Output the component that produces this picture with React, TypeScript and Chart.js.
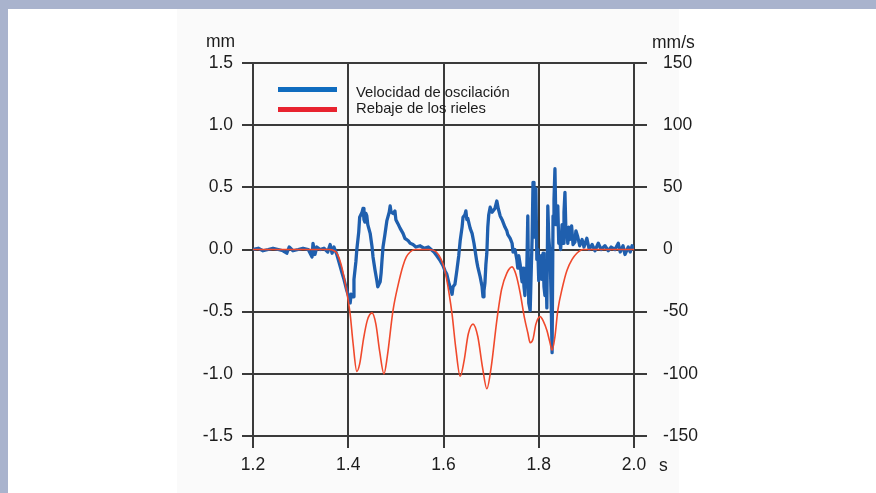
import React, { useEffect, useRef } from "react";
import { Chart, registerables } from "chart.js";

Chart.register(...registerables);

// Rebaje de los rieles (mm), left axis
const redTime = [1.2, 1.3, 1.36, 1.37, 1.376, 1.385, 1.395, 1.404, 1.41, 1.418, 1.424, 1.432, 1.44, 1.45, 1.458, 1.466, 1.475, 1.482, 1.494, 1.505, 1.515, 1.522, 1.53, 1.54, 1.57, 1.585, 1.595, 1.603, 1.612, 1.618, 1.626, 1.635, 1.643, 1.652, 1.662, 1.672, 1.682, 1.691, 1.7, 1.712, 1.722, 1.733, 1.744, 1.752, 1.761, 1.77, 1.777, 1.782, 1.788, 1.794, 1.803, 1.81, 1.817, 1.823, 1.828, 1.834, 1.84, 1.85, 1.859, 1.87, 1.88, 1.893, 2.0];
const redMm = [0, 0, 0, -0.01, -0.03, -0.12, -0.3, -0.52, -0.75, -0.98, -0.92, -0.72, -0.57, -0.51, -0.6, -0.82, -1.0, -0.86, -0.49, -0.28, -0.13, -0.06, -0.02, 0, 0, -0.02, -0.08, -0.17, -0.36, -0.52, -0.8, -1.02, -0.9, -0.68, -0.6, -0.7, -0.95, -1.12, -0.95, -0.57, -0.32, -0.19, -0.14, -0.2, -0.35, -0.55, -0.67, -0.75, -0.72, -0.6, -0.54, -0.58, -0.65, -0.74, -0.81, -0.7, -0.49, -0.3, -0.17, -0.08, -0.03, 0, 0];

// Velocidad de oscilación (mm/s), right axis
const blueTime = [1.2, 1.211, 1.221, 1.232, 1.242, 1.253, 1.263, 1.271, 1.276, 1.284, 1.295, 1.305, 1.316, 1.324, 1.326, 1.33, 1.334, 1.341, 1.349, 1.357, 1.362, 1.366, 1.37, 1.376,
  1.382, 1.387, 1.391, 1.397, 1.401, 1.404, 1.406, 1.41, 1.412, 1.416, 1.418, 1.422, 1.424, 1.429, 1.431, 1.433, 1.435, 1.437, 1.439, 1.441, 1.446, 1.45, 1.452, 1.456, 1.46, 1.462, 1.467, 1.469, 1.471, 1.473, 1.477, 1.481, 1.486, 1.488, 1.49, 1.494, 1.498, 1.5, 1.504, 1.509, 1.515, 1.519, 1.526, 1.53, 1.536, 1.542, 1.551, 1.559, 1.568, 1.574,
  1.58, 1.586, 1.593, 1.599, 1.603, 1.607, 1.612, 1.616, 1.618, 1.62, 1.624, 1.628, 1.632, 1.635, 1.639, 1.641, 1.645, 1.647, 1.649, 1.651, 1.656, 1.66, 1.664, 1.666, 1.67, 1.672, 1.677, 1.681, 1.683, 1.685, 1.687, 1.689, 1.691, 1.693, 1.695, 1.698, 1.702, 1.704, 1.708, 1.712, 1.715, 1.719, 1.723, 1.727, 1.729, 1.733, 1.735, 1.74, 1.744, 1.746, 1.75,
  1.754, 1.756, 1.758, 1.761, 1.763, 1.765, 1.767, 1.769, 1.771, 1.773, 1.775, 1.777, 1.779, 1.782, 1.784, 1.786, 1.788, 1.79, 1.792, 1.794, 1.796, 1.798, 1.8, 1.803, 1.805, 1.807, 1.809, 1.811, 1.813, 1.815, 1.817, 1.819, 1.821, 1.824, 1.826, 1.828, 1.83, 1.832, 1.834, 1.836, 1.838, 1.84, 1.842, 1.844, 1.846, 1.849, 1.851, 1.853, 1.855, 1.857, 1.859, 1.861, 1.863, 1.865, 1.869, 1.872, 1.876, 1.878, 1.882, 1.886, 1.891, 1.895, 1.901, 1.906, 1.912, 1.918, 1.925, 1.931, 1.939, 1.946, 1.952, 1.96, 1.967, 1.971, 1.977, 1.981, 1.988, 1.992, 1.996, 2.0];
const blueMmS = [0, 1, -1, 0, 1, 0, -1, -3, 2, -1, 0, 1, 0, -6, 5, -4, 2, 0, 1, -2, 4, -3, 2, -4,
  -12, -19, -24, -33, -38, -43, -36, -38, -24, -10, 0, 14, 26, 30, 33, 24, 22, 29, 27, 20, 13, 2, -6, -16, -25, -30, -26, -19, -8, 2, 12, 23, 30, 35, 30, 29, 31, 24, 21, 17, 13, 9, 7, 5, 4, 2, 3, 1, 2, 0,
  -2, -5, -9, -13, -17, -20, -28, -33, -36, -30, -28, -17, -5, 7, 18, 26, 28, 31, 24, 25, 17, 13, 5, 0, -10, -14, -22, -30, -38, -33, -27, -12, -3, 18, 28, 34, 30, 31, 33, 39, 33, 27, 24, 20, 18, 15, 12, 9, 5, -2, 0,
  -8, -15, -5, -12, -20, -26, -15, -30, -37, -20, -14, 27, -43, -49, -20, 8, 54, 22, 10, 49, -8, 0, -25, -13, -5, -24, -3, -30, -37, -10, -47, 35, 10, -6, -40, -83, 27, 40, 65, 20, 22, 35, 5, 10, 0, 20, 5, 30, 46, 15, 13, 5, 18, 8, 19, 4, 6, 15, 10, 3, 8, 2, 9, 0, 4, -1, 5, 0, 3, -1, 2, 0, 5, -2, 3, -4, 2, -2, 3, 0];

const xTicks = [1.2, 1.4, 1.6, 1.8, 2.0];
const leftTicks = [-1.5, -1.0, -0.5, 0.0, 0.5, 1.0, 1.5];
const rightTicks = [-150, -100, -50, 0, 50, 100, 150];

const legendLabels = ["Velocidad de oscilación", "Rebaje de los rieles"];
const leftUnit = "mm";
const rightUnit = "mm/s";
const xUnit = "s";

const FONT = "'Liberation Sans', Arial, Helvetica, sans-serif";
const BLUE = "#1f5fae";
const RED = "#f0492c";
const GRID = "#3a3a3a";
const TEXT = "#1c1c1c";

const extrasPlugin = {
  id: "extras",
  afterDraw(chart: any) {
    const ctx = chart.ctx;
    ctx.save();
    ctx.fillStyle = TEXT;
    ctx.textBaseline = "alphabetic";
    ctx.textAlign = "left";
    ctx.font = `17.5px ${FONT}`;
    ctx.fillText(leftUnit, 206, 47);
    ctx.fillText(rightUnit, 652, 48);
    ctx.fillText(xUnit, 659, 471);
    // legend
    ctx.lineWidth = 5;
    ctx.lineCap = "butt";
    ctx.strokeStyle = "#0f6cbf";
    ctx.beginPath();
    ctx.moveTo(278, 89.5);
    ctx.lineTo(337, 89.5);
    ctx.stroke();
    ctx.strokeStyle = "#e8232f";
    ctx.beginPath();
    ctx.moveTo(278, 109.5);
    ctx.lineTo(337, 109.5);
    ctx.stroke();
    ctx.font = `14.8px ${FONT}`;
    ctx.fillStyle = TEXT;
    ctx.fillText(legendLabels[0], 356, 97);
    ctx.fillText(legendLabels[1], 356, 113);
    ctx.restore();
  },
};

export default function App() {
  const ref = useRef<HTMLCanvasElement | null>(null);
  useEffect(() => {
    if (!ref.current) return;
    const red = redTime.map((x, i) => ({ x, y: redMm[i] }));
    const blue = blueTime.map((x, i) => ({ x, y: blueMmS[i] }));
    const chart = new Chart(ref.current, {
      type: "line",
      data: {
        datasets: [
          { label: legendLabels[1], data: red, yAxisID: "y", borderColor: RED, borderWidth: 1.6, pointRadius: 0, cubicInterpolationMode: "monotone" },
          { label: legendLabels[0], data: blue, yAxisID: "y2", borderColor: BLUE, borderWidth: 3.3, pointRadius: 0, tension: 0, borderJoinStyle: "round" },
        ],
      },
      options: {
        responsive: false,
        animation: false,
        devicePixelRatio: 1,
        layout: { padding: { top: 63, left: 0, right: 0, bottom: 0 } },
        plugins: { legend: { display: false }, tooltip: { enabled: false } },
        scales: {
          x: {
            type: "linear",
            min: 1.2,
            max: 2.0,
            afterFit: (s: any) => { s.height = 57; },
            afterBuildTicks: (s: any) => { s.ticks = xTicks.map((v) => ({ value: v })); },
            ticks: { callback: (v: any) => Number(v).toFixed(1), font: { family: FONT, size: 17.5 }, color: TEXT, padding: 7, maxRotation: 0 },
            grid: { color: GRID, lineWidth: 2, tickLength: 12, tickColor: GRID },
            border: { display: false },
          },
          y: {
            type: "linear",
            position: "left",
            min: -1.5,
            max: 1.5,
            afterFit: (s: any) => { s.width = 253; },
            afterBuildTicks: (s: any) => { s.ticks = leftTicks.map((v) => ({ value: v })); },
            ticks: { callback: (v: any) => Number(v).toFixed(1), font: { family: FONT, size: 17.5 }, color: TEXT, padding: 9 },
            grid: { color: GRID, lineWidth: 2, tickLength: 11, tickColor: GRID },
            border: { display: false },
          },
          y2: {
            type: "linear",
            position: "right",
            min: -150,
            max: 150,
            afterFit: (s: any) => { s.width = 876 - 634; },
            afterBuildTicks: (s: any) => { s.ticks = rightTicks.map((v) => ({ value: v })); },
            ticks: { callback: (v: any) => String(v), font: { family: FONT, size: 17.5 }, color: TEXT, padding: 16 },
            grid: { drawOnChartArea: false, color: GRID, lineWidth: 2, tickLength: 13, tickColor: GRID },
            border: { display: false },
          },
        },
      },
      plugins: [extrasPlugin],
    } as any);
    return () => chart.destroy();
  }, []);

  return (
    <div style={{ position: "fixed", left: 0, top: 0, width: 876, height: 493, background: "#ffffff", overflow: "hidden" }}>
      <div style={{ position: "absolute", left: 0, top: 0, width: 876, height: 9, background: "#a9b3cd" }} />
      <div style={{ position: "absolute", left: 0, top: 0, width: 8, height: 493, background: "#a9b3cd" }} />
      <div style={{ position: "absolute", left: 177, top: 9, width: 502, height: 484, background: "#fafafa" }} />
      <canvas ref={ref} width={876} height={493} style={{ position: "absolute", left: 0, top: 0, width: 876, height: 493 }} />
    </div>
  );
}
